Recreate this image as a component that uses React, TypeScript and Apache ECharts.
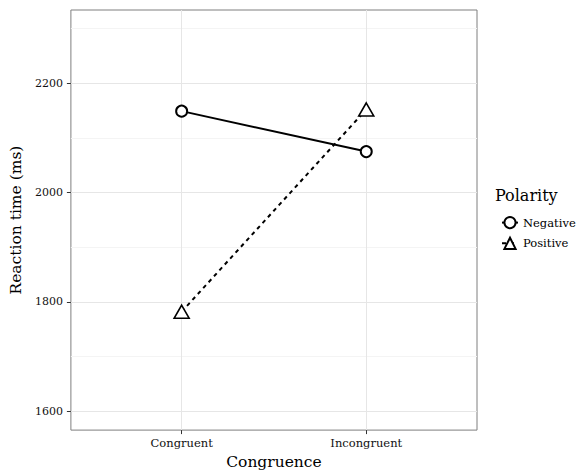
import React, { useEffect, useRef } from "react";
import * as echarts from "echarts";

const categories = ["Congruent", "Incongruent"];
const negativeValues = [2149, 2075];
const positiveValues = [1782, 2152];
const yMajorTicks = [1600, 1800, 2000, 2200];
const yMinorTicks = [1700, 1900, 2100, 2300];
const seriesNames = ["Negative", "Positive"];

const FONT = "DejaVu Serif";

export default function App() {
  const ref = useRef<HTMLDivElement>(null);
  useEffect(() => {
    if (!ref.current) return;
    const chart = echarts.init(ref.current, null, { renderer: "svg" });
    const catPos = categories.map((_, i) => i + 1);
    const toPts = (vals: number[]) => vals.map((v, i) => [catPos[i], v]);
    chart.setOption({
      animation: false,
      backgroundColor: "#ffffff",
      grid: {
        left: 68,
        top: 10,
        right: 100,
        bottom: 41,
        show: true,
        borderColor: "#7f7f7f",
        borderWidth: 1,
        backgroundColor: "transparent",
      },
      xAxis: {
        type: "value",
        min: 0.4,
        max: 2.6,
        name: "Congruence",
        nameLocation: "middle",
        nameGap: 22,
        nameTextStyle: { fontFamily: FONT, fontSize: 15.5, color: "#000" },
        axisLine: { show: false },
        axisTick: { show: true, length: 4, customValues: catPos, lineStyle: { color: "#333" } },
        axisLabel: {
          customValues: catPos,
          margin: 7,
          fontFamily: FONT,
          fontSize: 11.5,
          color: "#111",
          formatter: (v: number) => categories[Math.round(v) - 1] ?? "",
        },
        splitLine: { show: true, lineStyle: { color: "#e6e6e6", width: 1 } },
      },
      yAxis: [
        {
          type: "value",
          min: 1565.5,
          max: 2334,
          name: "Reaction time (ms)",
          nameLocation: "middle",
          nameGap: 38,
          nameTextStyle: { fontFamily: FONT, fontSize: 15.5, color: "#000" },
          axisLine: { show: false },
          axisTick: { show: true, length: 4, customValues: yMajorTicks, lineStyle: { color: "#333" } },
          axisLabel: {
            customValues: yMajorTicks,
            margin: 8,
            fontFamily: FONT,
            fontSize: 11,
            color: "#111",
            formatter: (v: number) => String(v),
          },
          splitLine: { show: true, lineStyle: { color: "#e6e6e6", width: 1 } },
        },
        {
          type: "value",
          min: 1565.5,
          max: 2334,
          position: "left",
          axisLine: { show: false },
          axisTick: { show: false, customValues: yMinorTicks },
          axisLabel: { show: false, customValues: yMinorTicks },
          splitLine: { show: true, lineStyle: { color: "#f4f4f4", width: 1 } },
        },
      ],
      legend: {
        orient: "vertical",
        left: 496,
        top: 211,
        itemWidth: 16,
        itemHeight: 14,
        itemGap: 7.5,
        textStyle: { fontFamily: FONT, fontSize: 11.5, color: "#000" },
        data: seriesNames,
      },
      graphic: [
        {
          type: "text",
          left: 495,
          top: 187,
          style: { text: "Polarity", fontFamily: FONT, fontSize: 16, fill: "#000" },
        },
      ],
      series: [
        {
          name: seriesNames[0],
          type: "line",
          data: toPts(negativeValues),
          symbol: "circle",
          symbolSize: 11,
          lineStyle: { color: "#000", width: 2, type: "solid" },
          itemStyle: { color: "#fff", borderColor: "#000", borderWidth: 2 },
          z: 3,
        },
        {
          name: seriesNames[1],
          type: "line",
          data: toPts(positiveValues),
          symbol: "triangle",
          symbolSize: [15, 13],
          lineStyle: { color: "#000", width: 2, type: [4, 4] },
          itemStyle: { color: "#fff", borderColor: "#000", borderWidth: 1.6 },
          z: 3,
        },
      ],
    });
    return () => chart.dispose();
  }, []);
  return (
    <div
      ref={ref}
      style={{ position: "fixed", left: 0, top: 0, width: 577, height: 475 }}
    />
  );
}
